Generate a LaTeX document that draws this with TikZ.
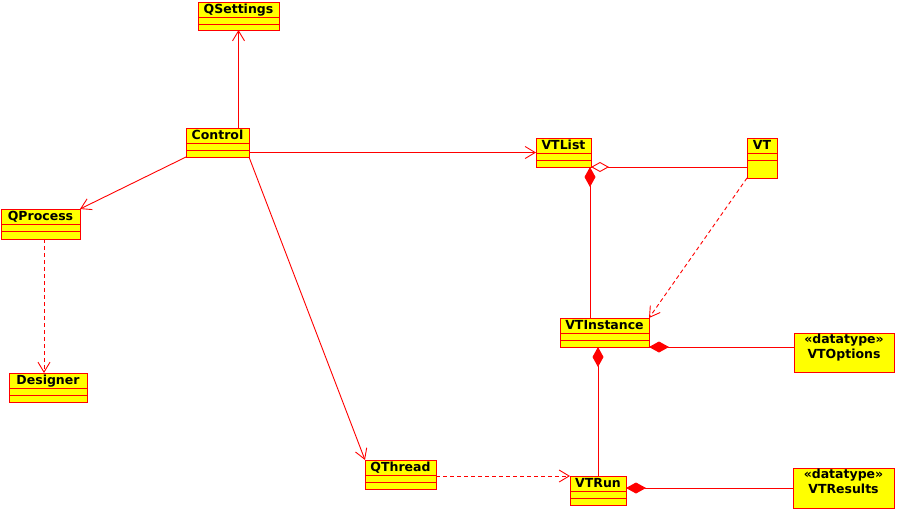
\documentclass[tikz,border=0pt]{standalone}
\usepackage{fontspec}
\newfontfamily\umlfont{DejaVu Sans}
\usetikzlibrary{arrows.meta}
\definecolor{umlred}{RGB}{255,0,0}
\definecolor{umlyellow}{RGB}{255,255,0}
\tikzset{
 clsbox/.style={rectangle, draw=umlred, fill=umlyellow, line width=1pt, inner sep=0pt, outer sep=0pt, anchor=north west},
 clsname/.style={font=\umlfont\bfseries\fontsize{12.5}{14}\selectfont, inner sep=0pt, text=black, anchor=base},
 conn/.style={draw=umlred, line width=0.9pt},
 assoc/.style={conn, -{Straight Barb[length=10pt,width=12pt]}},
 dep/.style={assoc, dash pattern=on 4pt off 3pt},
 comp/.style={conn, {Diamond[length=20pt,width=11pt,fill=umlred]}-},
 aggr/.style={conn, {Diamond[open,length=18pt,width=10pt,fill=white]}-},
}
\newcommand\umlclass[6]{%
 \node[clsbox, minimum width={(#4-#2)*1pt}, minimum height={(#5-#3)*1pt}] (#1) at (#2,#3) {};
 \draw[conn] ([yshift=-15pt]#1.north west) -- ([yshift=-15pt]#1.north east);
 \draw[conn] ([yshift=-22pt]#1.north west) -- ([yshift=-22pt]#1.north east);
 \node[clsname] (#1-name) at ([yshift=-11.5pt]#1.north) {#6};
}
\newcommand\umldata[6]{%
 \node[clsbox, minimum width={(#4-#2)*1pt}, minimum height={(#5-#3)*1pt}] (#1) at (#2,#3) {};
 \node[clsname] (#1-stereo) at ([yshift=-10pt]#1.north) {«datatype»};
 \node[clsname] (#1-name) at ([yshift=-25.5pt]#1.north) {#6};
}
\begin{document}
\begin{tikzpicture}[x=1pt,y=-1pt]
\useasboundingbox[fill=white] (0,0) rectangle (897,509);
\umlclass{qsettings}{198}{2}{279}{30}{QSettings}
\umlclass{control}{186}{128}{249}{157}{Control}
\umlclass{qprocess}{1}{209}{80}{239}{QProcess}
\umlclass{designer}{9}{373}{87}{402}{Designer}
\umlclass{vtlist}{536}{138}{591}{167}{VTList}
\umlclass{vt}{747}{138}{777}{178}{VT}
\umlclass{vtinstance}{560}{318}{649}{347}{VTInstance}
\umlclass{qthread}{365}{460}{436}{489}{QThread}
\umlclass{vtrun}{570}{476}{626}{505}{VTRun}
\umldata{vtoptions}{794}{333}{894}{372}{VTOptions}
\umldata{vtresults}{793}{468}{894}{508}{VTResults}

\draw[assoc] (control.north -| qsettings.south) -- (qsettings.south);
\draw[assoc] (control.east |- vtlist.west) -- (vtlist.west);
\draw[assoc] (control.south west) -- (qprocess.north east);
\draw[assoc] (control.south east) -- (qthread.north west);
\draw[dep] ([xshift=3.5pt]qprocess.south) -- ([xshift=-4pt]designer.north);
\draw[dep] (vt.south west) -- (vtinstance.north east);
\draw[dep] (qthread.east |- vtrun.north west) -- (vtrun.north west);
\draw[aggr] (vtlist.south east) -- (vtlist.south east -| vt.west);
\draw[comp] ([xshift=-1pt]vtlist.south east) -- ([xshift=-1pt]vtlist.south east |- vtinstance.north);
\draw[comp] (vtinstance.south east) -- (vtinstance.south east -| vtoptions.west);
\draw[comp] (vtrun.north |- vtinstance.south) -- (vtrun.north);
\draw[comp] (vtresults.west -| vtrun.east) -- (vtresults.west);
\end{tikzpicture}
\end{document}
